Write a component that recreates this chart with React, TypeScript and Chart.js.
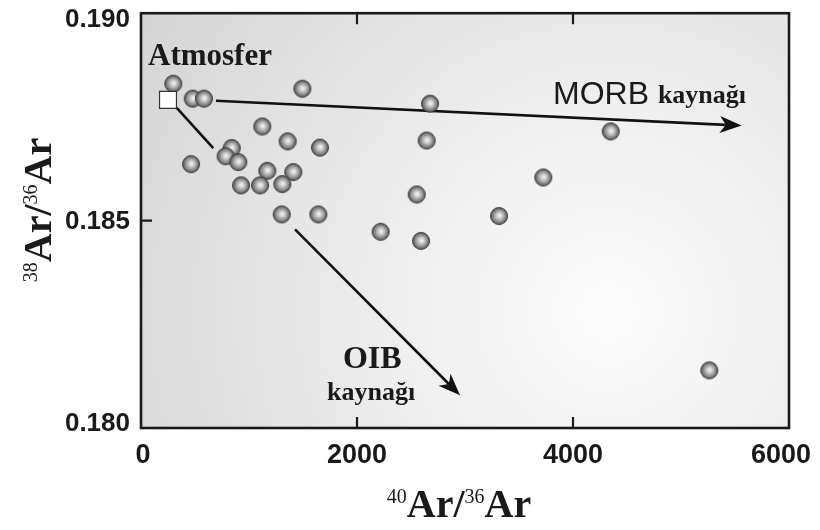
import React, { useEffect, useRef } from "react";
import { Chart, registerables } from "chart.js";

Chart.register(...registerables);

// Sample points: 40Ar/36Ar (x) and 38Ar/36Ar (y)
const ar40_36 = [299, 479, 583, 1494, 2676, 1123, 1358, 1657, 2645, 840, 784, 901, 463, 1169, 1410, 926, 1102, 1308, 2553, 1303, 1642, 2219, 2593, 4349, 3725, 3315, 5262];
const ar38_36 = [0.18830, 0.18794, 0.18794, 0.18818, 0.18782, 0.18727, 0.18691, 0.18676, 0.18693, 0.18675, 0.18655, 0.18641, 0.18636, 0.18620, 0.18617, 0.18585, 0.18585, 0.18588, 0.18563, 0.18515, 0.18515, 0.18473, 0.18451, 0.18715, 0.18604, 0.18511, 0.18139];

// Atmosphere reference
const atmX = [250];
const atmY = [0.18791];

// Trend arrows (data units)
const morbX = [694, 5562];
const morbY = [0.18789, 0.18729];
const oibX = [331, 669, 1426, 2954];
const oibY = [0.18772, 0.18675, 0.18479, 0.18079];

// Axis ticks
const xTicks = [0, 2000, 4000, 6000];
const yTicks = [0.180, 0.185, 0.190];

const SERIF = '"Liberation Serif", "Times New Roman", serif';
const SANS = '"Liberation Sans", Arial, sans-serif';

function makeSphere(): HTMLCanvasElement {
  const r = 8.5;
  const size = 20;
  const c = document.createElement("canvas");
  c.width = size;
  c.height = size;
  const ctx = c.getContext("2d")!;
  const cx = size / 2, cy = size / 2;
  const g = ctx.createRadialGradient(cx + 0.5, cy - 0.5, 0.5, cx, cy, r);
  g.addColorStop(0, "#f4f4f4");
  g.addColorStop(0.45, "#b4b4b4");
  g.addColorStop(0.85, "#707070");
  g.addColorStop(1, "#555555");
  ctx.beginPath();
  ctx.arc(cx, cy, r, 0, Math.PI * 2);
  ctx.fillStyle = g;
  ctx.fill();
  ctx.lineWidth = 1;
  ctx.strokeStyle = "#3c3c3c";
  ctx.stroke();
  return c;
}

function drawArrowHead(ctx: CanvasRenderingContext2D, x0: number, y0: number, x1: number, y1: number) {
  const dx = x1 - x0, dy = y1 - y0;
  const len = Math.hypot(dx, dy);
  const ux = dx / len, uy = dy / len;
  const px = -uy, py = ux;
  const L = 22, W = 8.5;
  const bx = x1 - ux * L, by = y1 - uy * L;
  const nx = x1 - ux * L * 0.72, ny = y1 - uy * L * 0.72;
  ctx.beginPath();
  ctx.moveTo(x1, y1);
  ctx.lineTo(bx + px * W, by + py * W);
  ctx.lineTo(nx, ny);
  ctx.lineTo(bx - px * W, by - py * W);
  ctx.closePath();
  ctx.fillStyle = "#111";
  ctx.fill();
  return [nx, ny];
}

function measureRich(ctx: CanvasRenderingContext2D, parts: { t: string; sup: boolean }[], big: number, small: number) {
  let w = 0;
  const widths: number[] = [];
  for (const p of parts) {
    ctx.font = p.sup ? `${small}px ${SERIF}` : `bold ${big}px ${SERIF}`;
    const m = ctx.measureText(p.t).width;
    widths.push(m);
    w += m;
  }
  return { w, widths };
}

function paintRich(ctx: CanvasRenderingContext2D, parts: { t: string; sup: boolean }[], big: number, small: number, startX: number) {
  const { widths } = measureRich(ctx, parts, big, small);
  let x = startX;
  parts.forEach((p, i) => {
    ctx.font = p.sup ? `${small}px ${SERIF}` : `bold ${big}px ${SERIF}`;
    ctx.fillText(p.t, x, p.sup ? -big * 0.36 : 0);
    x += widths[i];
  });
}

const titleParts = (a: string, b: string) => [
  { t: a, sup: true },
  { t: "Ar/", sup: false },
  { t: b, sup: true },
  { t: "Ar", sup: false },
];

const decorPlugin = {
  id: "decor",
  beforeDatasetsDraw(chart: any) {
    const { ctx, chartArea: a, scales } = chart;
    const xs = scales.x, ys = scales.y;
    ctx.save();
    const cx = a.left + (a.right - a.left) * 0.72;
    const cy = a.top + (a.bottom - a.top) * 0.72;
    const g = ctx.createRadialGradient(cx, cy, 10, cx, cy, 620);
    g.addColorStop(0, "#fcfcfc");
    g.addColorStop(0.35, "#eeeeee");
    g.addColorStop(1, "#cfcfcf");
    ctx.fillStyle = g;
    ctx.fillRect(a.left, a.top, a.right - a.left, a.bottom - a.top);

    ctx.strokeStyle = "#111";
    ctx.lineWidth = 2.6;
    ctx.lineCap = "butt";
    const mx = morbX.map((v) => xs.getPixelForValue(v));
    const my = morbY.map((v) => ys.getPixelForValue(v));
    const [mnx, mny] = drawArrowHead(ctx, mx[0], my[0], mx[1], my[1]);
    ctx.beginPath();
    ctx.moveTo(mx[0], my[0]);
    ctx.lineTo(mnx, mny);
    ctx.stroke();

    const ox = oibX.map((v) => xs.getPixelForValue(v));
    const oy = oibY.map((v) => ys.getPixelForValue(v));
    ctx.beginPath();
    ctx.moveTo(ox[0], oy[0]);
    ctx.lineTo(ox[1], oy[1]);
    ctx.stroke();
    const [onx, ony] = drawArrowHead(ctx, ox[2], oy[2], ox[3], oy[3]);
    ctx.beginPath();
    ctx.moveTo(ox[2], oy[2]);
    ctx.lineTo(onx, ony);
    ctx.stroke();
    ctx.restore();
  },
  afterDatasetsDraw(chart: any) {
    const { ctx, scales } = chart;
    const xs = scales.x, ys = scales.y;
    ctx.save();
    ctx.fillStyle = "#1a1a1a";
    ctx.textBaseline = "alphabetic";
    ctx.textAlign = "left";
    ctx.font = `bold 31px ${SERIF}`;
    ctx.fillText("Atmosfer", xs.getPixelForValue(65), ys.getPixelForValue(0.18875));
    const mX = xs.getPixelForValue(3815), mY = ys.getPixelForValue(0.18782);
    ctx.font = `32px ${SANS}`;
    ctx.fillText("MORB", mX, mY);
    const mw = ctx.measureText("MORB ").width;
    ctx.font = `bold 26px ${SERIF}`;
    ctx.fillText("kaynağı", mX + mw, mY - 1);
    ctx.font = `bold 32px ${SERIF}`;
    ctx.fillText("OIB", xs.getPixelForValue(1870), ys.getPixelForValue(0.18144));
    ctx.font = `bold 26px ${SERIF}`;
    ctx.fillText("kaynağı", xs.getPixelForValue(1722), ys.getPixelForValue(0.18067));
    ctx.restore();
  },
  afterDraw(chart: any) {
    const { ctx, chartArea: a, scales } = chart;
    const xs = scales.x, ys = scales.y;
    ctx.save();
    ctx.strokeStyle = "#1a1a1a";
    ctx.lineWidth = 2.6;
    ctx.strokeRect(a.left, a.top, a.right - a.left, a.bottom - a.top);
    ctx.lineWidth = 2.2;
    ctx.beginPath();
    [2000, 4000].forEach((v) => {
      const px = xs.getPixelForValue(v);
      ctx.moveTo(px, a.bottom);
      ctx.lineTo(px, a.bottom - 11);
      ctx.moveTo(px, a.top);
      ctx.lineTo(px, a.top + 11);
    });
    const py = ys.getPixelForValue(0.185);
    ctx.moveTo(a.left, py);
    ctx.lineTo(a.left + 11, py);
    ctx.stroke();

    // tick labels (end labels pulled slightly inward as in the figure)
    ctx.fillStyle = "#1a1a1a";
    ctx.font = `bold 26px ${SANS}`;
    ctx.textAlign = "right";
    ctx.textBaseline = "middle";
    yTicks.forEach((v) => {
      let y = ys.getPixelForValue(v);
      y = Math.min(Math.max(y, a.top + 6), a.bottom - 5);
      ctx.fillText(v.toFixed(3), a.left - 11, y + 1);
    });
    ctx.font = `bold 27px ${SANS}`;
    ctx.textAlign = "center";
    ctx.textBaseline = "top";
    xTicks.forEach((v) => {
      let x = xs.getPixelForValue(v);
      x = Math.min(Math.max(x, a.left + 2), a.right - 8);
      ctx.fillText(String(v), x, a.bottom + 14);
    });

    ctx.textBaseline = "alphabetic";
    ctx.textAlign = "left";
    const big = 40, small = 20;
    const xp = titleParts("40", "36");
    const { w: xw } = measureRich(ctx, xp, big, small);
    ctx.save();
    ctx.translate((a.left + a.right) / 2 - xw / 2 - 6, 517);
    paintRich(ctx, xp, big, small, 0);
    ctx.restore();

    const yp = titleParts("38", "36");
    const { w: yw } = measureRich(ctx, yp, big, small);
    ctx.save();
    ctx.translate(51, 210);
    ctx.rotate(-Math.PI / 2);
    paintRich(ctx, yp, big, small, -yw / 2);
    ctx.restore();
    ctx.restore();
  },
};

export default function App() {
  const ref = useRef<HTMLCanvasElement>(null);
  useEffect(() => {
    const sphere = makeSphere();
    const chart = new Chart(ref.current!, {
      type: "scatter",
      data: {
        datasets: [
          {
            label: "Samples",
            data: ar40_36.map((x, i) => ({ x, y: ar38_36[i] })),
            pointStyle: sphere as any,
            pointRadius: 9,
            order: 2,
          },
          {
            label: "Atmosfer",
            data: atmX.map((x, i) => ({ x, y: atmY[i] })),
            pointStyle: "rect",
            pointRadius: 12,
            backgroundColor: "#ffffff",
            borderColor: "#333333",
            borderWidth: 1.2,
            order: 1,
          },
        ],
      },
      options: {
        animation: false,
        responsive: false,
        maintainAspectRatio: false,
        events: [],
        layout: { padding: { left: 0, right: 31, top: 11, bottom: 0 } },
        plugins: { legend: { display: false }, tooltip: { enabled: false } },
        scales: {
          x: {
            type: "linear",
            min: 0,
            max: 6000,
            afterBuildTicks: (s: any) => {
              s.ticks = xTicks.map((v) => ({ value: v }));
            },
            afterFit: (s: any) => {
              s.height = 102;
              s.paddingLeft = 0;
              s.paddingRight = 0;
            },
            grid: { display: false, drawTicks: false },
            border: { display: false },
            ticks: { display: false },
          },
          y: {
            type: "linear",
            min: 0.18,
            max: 0.19,
            afterBuildTicks: (s: any) => {
              s.ticks = yTicks.map((v) => ({ value: v }));
            },
            afterFit: (s: any) => {
              s.width = 141;
              s.paddingTop = 0;
              s.paddingBottom = 0;
            },
            grid: { display: false, drawTicks: false },
            border: { display: false },
            ticks: { display: false },
          },
        },
      },
      plugins: [decorPlugin],
    });
    return () => chart.destroy();
  }, []);
  return (
    <div style={{ position: "absolute", left: 0, top: 0, width: 820, height: 530, background: "#fff" }}>
      <canvas ref={ref} width={820} height={530} style={{ width: 820, height: 530, display: "block" }} />
    </div>
  );
}
